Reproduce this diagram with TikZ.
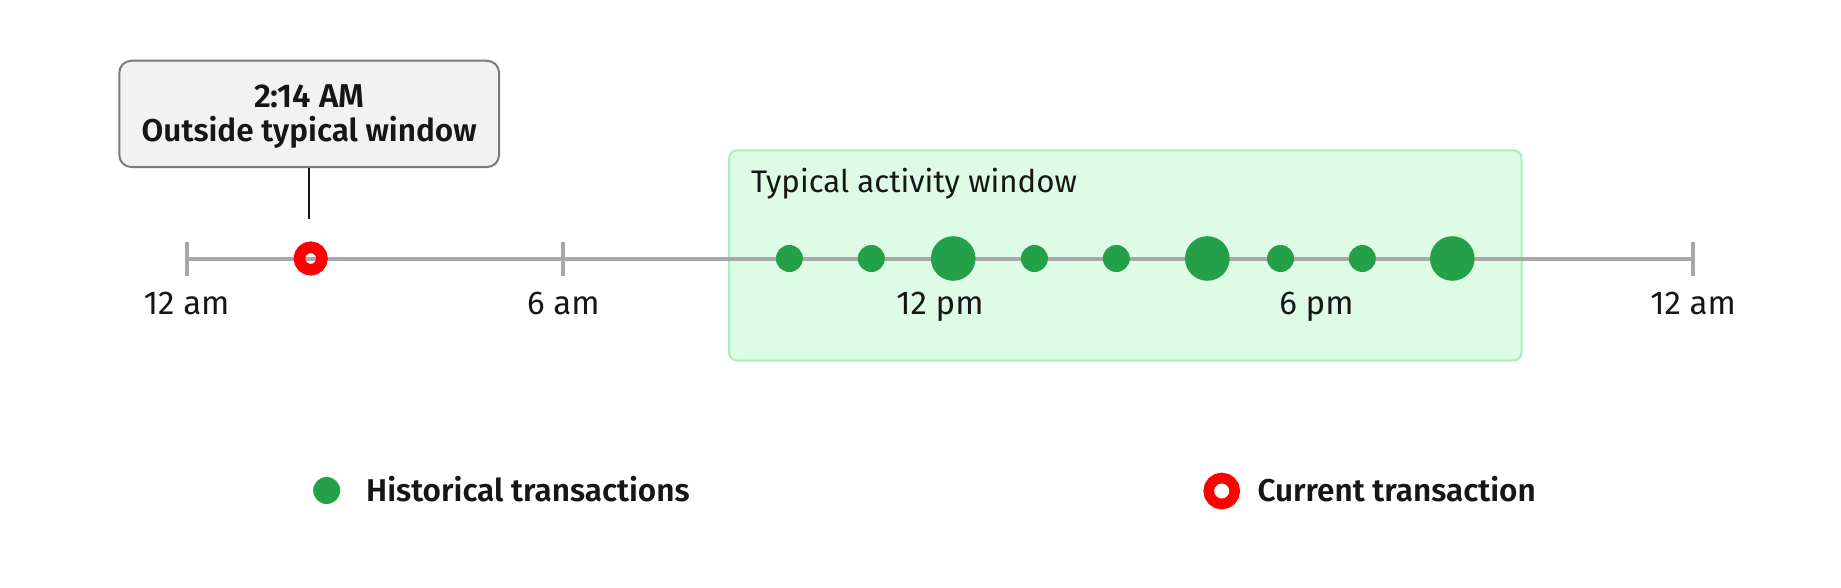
\documentclass[tikz,border=0pt]{standalone}
\usepackage{fontspec}
\setmainfont{Fira Sans}[BoldFont={Fira Sans SemiBold}]
\definecolor{axisgray}{HTML}{A8A8A8}
\definecolor{dotgreen}{HTML}{24A148}
\definecolor{winfill}{HTML}{DEFBE6}
\definecolor{winborder}{HTML}{A7F0BA}
\definecolor{callfill}{HTML}{F2F2F2}
\definecolor{callborder}{HTML}{7A7A7A}
\definecolor{ink}{HTML}{161616}
\definecolor{ringred}{HTML}{FF0000}
\begin{document}
\begin{tikzpicture}[x=1pt,y=-1pt,
  axisline/.style={draw=axisgray,line width=4pt},
  tickmark/.style={draw=axisgray,line width=4pt},
  ticklabel/.style={anchor=base,inner sep=0pt,text=ink,font=\fontsize{33}{38}\selectfont},
  histdot/.style={circle,fill=dotgreen,inner sep=0pt,minimum size=27pt},
  bigdot/.style={histdot,minimum size=44.6pt},
  currdot/.style={circle,draw=ringred,line width=11.5pt,inner sep=0pt,minimum size=22.5pt},
  legring/.style={circle,draw=ringred,fill=white,line width=10.6pt,inner sep=0pt,minimum size=26pt},
  windowbox/.style={draw=winborder,fill=winfill,line width=2pt,rounded corners=8pt,inner sep=0pt,minimum width=792.5pt,minimum height=210.2pt},
  wintext/.style={anchor=base west,inner sep=0pt,text=ink,font=\fontsize{31.2}{36}\selectfont},
  callbox/.style={draw=callborder,fill=callfill,line width=2pt,rounded corners=12pt,inner sep=0pt,minimum width=379.7pt,minimum height=106.3pt},
  calltext/.style={anchor=base,inner sep=0pt,text=ink,font=\fontsize{31.5}{36}\selectfont\bfseries},
  legtext/.style={anchor=base west,inner sep=0pt,text=ink,font=\fontsize{31.5}{36}\selectfont\bfseries},
  leader/.style={draw=ink,line width=2pt}
]
\useasboundingbox[fill=white] (0,0) rectangle (1841,588);

% typical activity window
\node[windowbox] (win) at (1125.3,255.4) {};
\node[wintext] (wintitle) at (751,193) {Typical activity window};

% axis
\coordinate (t0) at (186.7,258.5);
\coordinate (t1) at (563.3,258.5);
\coordinate (t2) at (939.9,258.5);
\coordinate (t3) at (1316.5,258.5);
\coordinate (t4) at (1693.1,258.5);
\draw[axisline] (t0) -- (t4);
\foreach \t in {t0,t1,t4}{
  \draw[tickmark] ([yshift=-17pt]\t) -- ([yshift=17pt]\t);
}
\node[ticklabel] (l0) at (186.7,314) {12 am};
\node[ticklabel] (l1) at (563.3,314) {6 am};
\node[ticklabel] (l2) at (939.9,314) {12 pm};
\node[ticklabel] (l3) at (1316.5,314) {6 pm};
\node[ticklabel] (l4) at (1693.1,314) {12 am};

% historical transactions
\node[histdot] (h1) at (789.4,258.5) {};
\node[histdot] (h2) at (871.3,258.5) {};
\node[bigdot]  (h3) at (953.2,258.5) {};
\node[histdot] (h4) at (1034.4,258.5) {};
\node[histdot] (h5) at (1116.3,258.5) {};
\node[bigdot]  (h6) at (1207.3,258.5) {};
\node[histdot] (h7) at (1280.5,258.5) {};
\node[histdot] (h8) at (1362.3,258.5) {};
\node[bigdot]  (h9) at (1452.3,258.5) {};

% current transaction and callout
\node[currdot] (cur) at (310.7,258.5) {};
\node[callbox] (callout) at (309.2,113.9) {};
\node[calltext,font=\fontsize{33}{38}\selectfont\bfseries] (ct1) at (309.2,107.7) {2:14 AM};
\node[calltext] (ct2) at (309.2,141.7) {Outside typical window};
\coordinate (tip) at (309.2,219);
\draw[leader] (callout.south) -- (tip);

% legend
\node[histdot] (lh) at (326.7,490.5) {};
\node[legtext] (lht) at (366,501.5) {Historical transactions};
\node[legring] (lc) at (1221.7,491) {};
\node[legtext] (lct) at (1257.3,501.5) {Current transaction};
\end{tikzpicture}
\end{document}
